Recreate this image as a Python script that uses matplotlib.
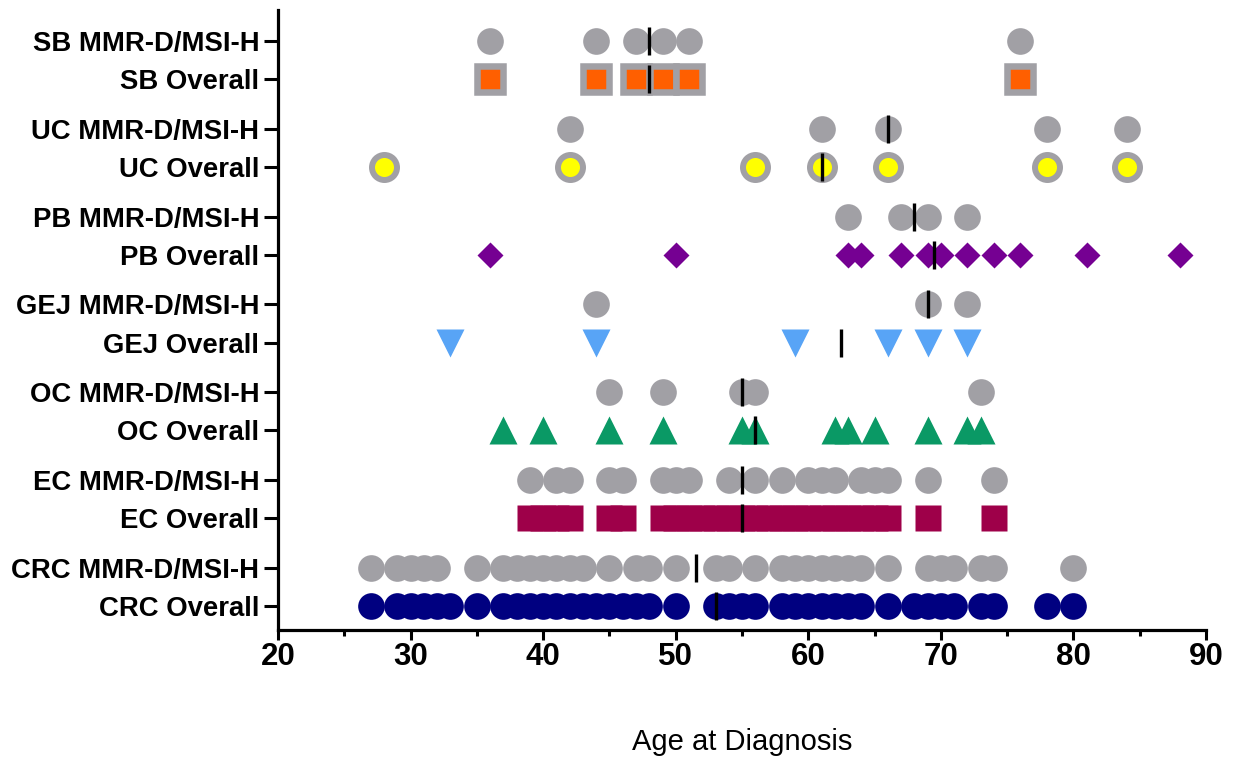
import matplotlib.pyplot as plt

plt.rcParams['font.family'] = ['Liberation Sans', 'DejaVu Sans']

# rows listed bottom to top
labels = ["CRC Overall", "CRC MMR-D/MSI-H", "EC Overall", "EC MMR-D/MSI-H",
          "OC Overall", "OC MMR-D/MSI-H", "GEJ Overall", "GEJ MMR-D/MSI-H",
          "PB Overall", "PB MMR-D/MSI-H", "UC Overall", "UC MMR-D/MSI-H",
          "SB Overall", "SB MMR-D/MSI-H"]

crc_overall = [27, 29, 30, 31, 32, 33, 35, 37, 38, 39, 40, 41, 42, 43, 44, 45, 46, 47, 48,
               50, 53, 54, 55, 56, 58, 59, 60, 61, 62, 63, 64, 66, 68, 69, 70, 71, 73, 74, 78, 80]
crc_mmr = [27, 29, 30, 31, 32, 35, 37, 38, 39, 40, 41, 42, 43, 45, 47, 48, 50, 53, 54, 56,
           58, 59, 60, 61, 62, 63, 64, 66, 69, 70, 71, 73, 74, 80]
ec_overall = [39, 40, 41, 42, 45, 46, 49, 50, 51, 52, 53, 54, 55, 56, 57, 58, 59, 60, 61,
              62, 63, 64, 65, 66, 69, 74]
ec_mmr = [39, 41, 42, 45, 46, 49, 50, 51, 54, 56, 58, 60, 61, 62, 64, 65, 66, 69, 74]
oc_overall = [37, 40, 45, 49, 55, 56, 62, 63, 65, 69, 72, 73]
oc_mmr = [45, 49, 55, 56, 73]
gej_overall = [33, 44, 59, 66, 69, 72]
gej_mmr = [44, 69, 72]
pb_overall = [36, 50, 63, 64, 67, 69, 70, 72, 74, 76, 81, 88]
pb_mmr = [63, 67, 69, 72]
uc_overall = [28, 42, 56, 61, 66, 78, 84]
uc_mmr = [42, 61, 66, 78, 84]
sb_overall = [36, 44, 47, 49, 51, 76]
sb_mmr = [36, 44, 47, 49, 51, 76]

medians = [53, 51.5, 55, 55, 56, 55, 62.5, 69, 69.5, 68, 61, 66, 48, 48]

series = [crc_overall, crc_mmr, ec_overall, ec_mmr, oc_overall, oc_mmr, gej_overall,
          gej_mmr, pb_overall, pb_mmr, uc_overall, uc_mmr, sb_overall, sb_mmr]

grey = '#a1a0a5'
grey_dot = dict(marker='o', ms=19.2, mfc=grey, mec='none')
styles = [
    dict(marker='o', ms=19.2, mfc='#000080', mec='none'),
    grey_dot,
    dict(marker='s', ms=19.4, mfc='#9e0049', mec='none'),
    grey_dot,
    dict(marker='^', ms=19.5, mfc='#0a9965', mec='none'),
    grey_dot,
    dict(marker='v', ms=19.5, mfc='#58a4f6', mec='none'),
    grey_dot,
    dict(marker='D', ms=13.2, mfc='#750092', mec='none'),
    grey_dot,
    dict(marker='o', ms=18.0, mfc='#ffff00', mec=grey, mew=4.3),
    grey_dot,
    dict(marker='s', ms=19.0, mfc='#ff5f00', mec=grey, mew=4.7),
    grey_dot,
]

# pairs spaced 1 apart, groups 1.3 apart
ypos = [(i // 2) * 2.3 + (i % 2) for i in range(len(labels))]

fig = plt.figure(figsize=(12.38, 7.57), dpi=100)
ax = fig.add_axes([0.2246, 0.1678, 0.7496, 0.819])

for vals, y, st in zip(series, ypos, styles):
    ax.plot(vals, [y] * len(vals), linestyle='none', zorder=2, **st)

for m, y in zip(medians, ypos):
    ax.plot([m], [y], marker='|', ms=19.5, mew=2.4, color='black', linestyle='none', zorder=3)

ax.set_xlim(20, 90)
ax.set_ylim(-0.63, 15.61)
ax.set_yticks(ypos)
ax.set_yticklabels(labels, fontsize=19.8, fontweight='bold')
ax.set_xticks(range(20, 91, 10))
ax.set_xticks(range(25, 90, 10), minor=True)
for lab in ax.get_xticklabels():
    lab.set_fontsize(22.5)
    lab.set_fontweight('bold')
ax.tick_params(axis='y', length=10, width=2.2, pad=3.5)
ax.tick_params(axis='x', which='major', length=7, width=2.2, pad=2)
ax.tick_params(axis='x', which='minor', length=4, width=2.2)
ax.set_xlabel("Age at Diagnosis", fontsize=21, labelpad=40)

ax.spines['top'].set_visible(False)
ax.spines['right'].set_visible(False)
ax.spines['left'].set_linewidth(2.3)
ax.spines['bottom'].set_linewidth(2.3)

fig.savefig('out.png', dpi=100)
